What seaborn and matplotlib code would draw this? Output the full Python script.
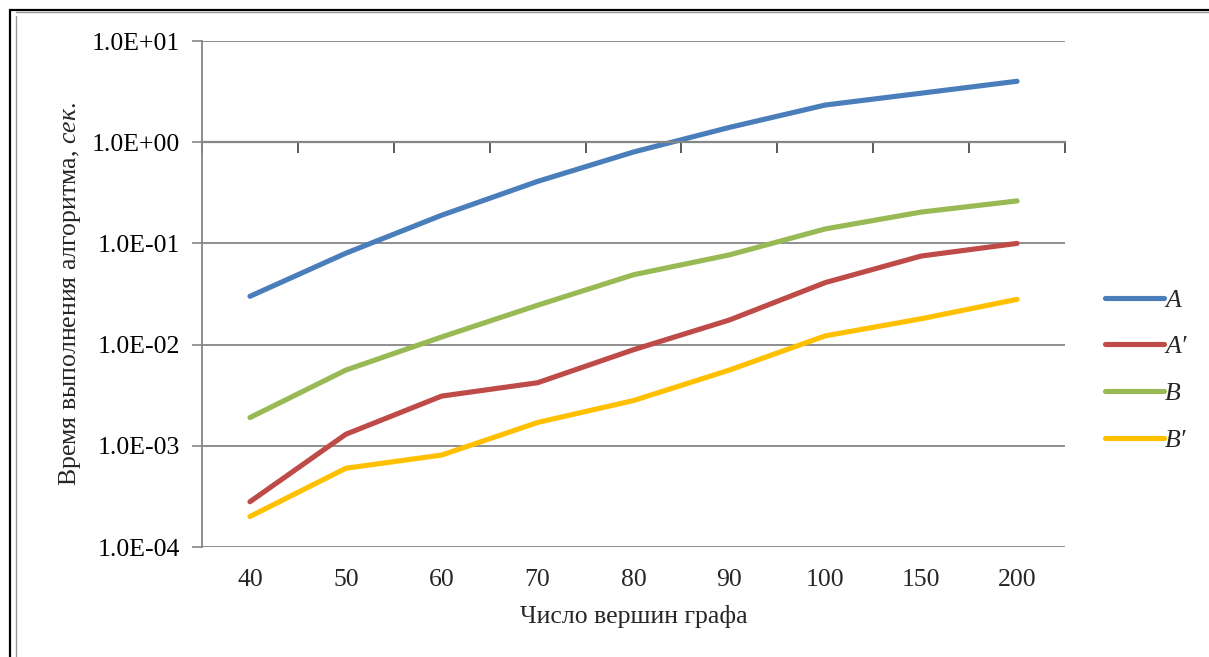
import numpy as np
import pandas as pd
import matplotlib
matplotlib.use('Agg')
import matplotlib.pyplot as plt
from matplotlib.lines import Line2D
from matplotlib.ticker import FixedLocator, NullFormatter, FuncFormatter
import seaborn as sns

# data
vertices = ['40', '50', '60', '70', '80', '90', '100', '150', '200']
time_a = [0.030, 0.080, 0.19, 0.41, 0.80, 1.40, 2.33, 3.05, 4.0]
time_a_prime = [0.00028, 0.0013, 0.0031, 0.0042, 0.0089, 0.0175, 0.041, 0.075, 0.100]
time_b = [0.0019, 0.0056, 0.0119, 0.0245, 0.049, 0.077, 0.139, 0.204, 0.263]
time_b_prime = [0.00020, 0.00060, 0.00081, 0.0017, 0.0028, 0.0056, 0.0122, 0.018, 0.028]
series_names = ['A', 'A\u2032', 'B', 'B\u2032']
series_colors = ['#4A7EBB', '#BE4B48', '#98B954', '#FFC000']

df = pd.concat([
    pd.DataFrame({'n': vertices, 't': vals, 'alg': name})
    for name, vals in zip(series_names, [time_a, time_a_prime, time_b, time_b_prime])
])

sns.set_theme(style='white')
plt.rcParams['font.family'] = ['Liberation Serif', 'DejaVu Serif']
plt.rcParams['mathtext.fontset'] = 'custom'
plt.rcParams['mathtext.rm'] = 'Liberation Serif'
plt.rcParams['mathtext.it'] = 'Liberation Serif:italic'

fs = 18.5
fig = plt.figure(figsize=(12.09, 6.57), dpi=100)
W, H = 1209, 657
ax = fig.add_axes([202 / W, 1 - 547 / H, (1065 - 202) / W, (547 - 41) / H])

sns.lineplot(data=df, x='n', y='t', hue='alg', palette=series_colors,
             linewidth=3.7, sort=False, legend=False, ax=ax)
for ln in ax.get_lines():
    ln.set_solid_capstyle('round')
    ln.set_solid_joinstyle('round')

ax.set_yscale('log')
ax.set_ylim(1e-4, 1e1)
ax.set_xlim(-0.5, len(vertices) - 0.5)

grid_c = '#868686'
ax.yaxis.set_major_locator(FixedLocator([1e-4, 1e-3, 1e-2, 1e-1, 1e0, 1e1]))
ax.yaxis.set_minor_locator(FixedLocator([]))
ax.yaxis.set_major_formatter(FuncFormatter(lambda v, p: '{:.1E}'.format(v)))
ax.grid(axis='y', color=grid_c, linewidth=1.3)
ax.set_axisbelow(True)
ax.tick_params(axis='y', which='major', left=True, length=7, width=1.2,
               color=grid_c, labelsize=fs, pad=9, labelcolor='black')

# horizontal axis crosses at 1.0 (Excel style), labels stay at the bottom
for s in ['top', 'right']:
    ax.spines[s].set_visible(False)
ax.spines['left'].set_color(grid_c)
ax.spines['left'].set_linewidth(1.3)
ax.spines['bottom'].set_position(('data', 1.0))
ax.spines['bottom'].set_color(grid_c)
ax.spines['bottom'].set_linewidth(1.6)
ax.xaxis.set_major_locator(FixedLocator(np.arange(len(vertices) + 1) - 0.5))
ax.xaxis.set_major_formatter(NullFormatter())
ax.tick_params(axis='x', bottom=True, length=8, width=1.2, color='#404040', direction='out')
ax.set_xlabel('')

sec = ax.secondary_xaxis('bottom')
sec.set_xticks(range(len(vertices)))
sec.set_xticklabels(vertices)
sec.tick_params(length=0, labelsize=fs, pad=16)
sec.spines['bottom'].set_visible(False)
sec.set_xlabel('Число вершин графа', fontsize=fs, labelpad=10)

ax.set_ylabel('Время выполнения алгоритма, $\\mathit{сек.}$', fontsize=fs, labelpad=6)

handles = [Line2D([], [], color=c, linewidth=3.7, solid_capstyle='round') for c in series_colors]
leg = fig.legend(handles, series_names, loc='upper left', bbox_to_anchor=(1092 / W, 1 - 276 / H),
                 frameon=False, fontsize=fs, handlelength=2.3, handletextpad=0.05,
                 labelspacing=0.92, borderpad=0)
for t in leg.get_texts():
    t.set_fontstyle('italic')

# chart frame (double line on the left and top)
fig.add_artist(Line2D([9.5 / W, 9.5 / W], [0, 1 - 10 / H], color='black', linewidth=1.6))
fig.add_artist(Line2D([16 / W, 16 / W], [0, 1 - 16 / H], color='#999999', linewidth=1.0))
fig.add_artist(Line2D([9.5 / W, 1], [1 - 10 / H, 1 - 10 / H], color='black', linewidth=1.6))
fig.add_artist(Line2D([16 / W, 1], [1 - 12 / H, 1 - 12 / H], color='#999999', linewidth=1.0))

fig.savefig('out.png', dpi=100)
